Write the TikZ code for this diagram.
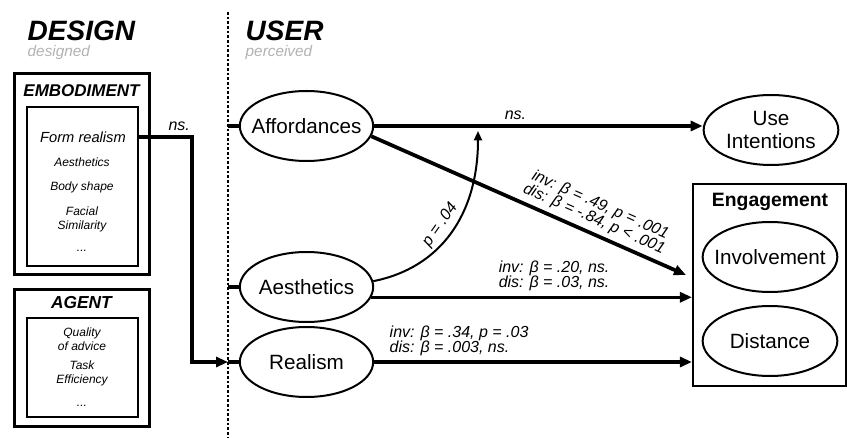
\documentclass[tikz,border=0pt]{standalone}
\usepackage{fontspec}
\setmainfont{Liberation Sans}
\usepackage{xcolor}
\usetikzlibrary{arrows.meta,shapes.geometric}
\tikzset{>={Triangle[length=9pt,width=7.5pt]}}

\begin{document}
\begin{tikzpicture}[x=0.75pt,y=-0.75pt,
    construct/.style={draw,ellipse,line width=1.5pt,minimum width=100pt,minimum height=52.5pt,inner xsep=-7pt,inner ysep=0pt,align=center,font=\fontsize{15.5}{17}\selectfont},
    group/.style={draw,line width=2.25pt,minimum width=101.25pt,inner sep=0pt},
    inner/.style={draw,line width=1pt,minimum width=83.25pt,inner sep=0pt},
    item/.style={align=center,font=\fontsize{9}{10.5}\selectfont\itshape},
    stat/.style={align=center,font=\fontsize{12}{11.5}\selectfont\itshape},
    heading/.style={anchor=west,font=\fontsize{21}{21}\selectfont\bfseries\itshape},
    sub/.style={anchor=west,text=black!30,font=\fontsize{11.5}{12}\selectfont\itshape},
    path/.style={->,line width=2.4pt}]
    \useasboundingbox (0,0) rectangle (847,438);
    \coordinate (divtop) at (228,12);
    \coordinate (divbottom) at (228,438);
    \draw[line width=2pt,dash pattern=on 2pt off 1.5pt] (divtop) -- (divbottom);
    \node[heading] (design) at (23,31) {DESIGN};
    \node[sub] (designed) at (23,53) {designed};
    \node[heading] (user) at (241,31) {USER};
    \node[sub] (perceived) at (241,53) {perceived};

    \node[group,minimum height=150.75pt] (embodiment) at (81.5,174.5) {};
    \node[inner,minimum height=119.25pt] (embinner) at (82.5,186.5) {};
    \node[font=\fontsize{12.75}{13}\selectfont\bfseries\itshape] (embtitle) at (81.5,91) {EMBODIMENT};
    \node[align=center,font=\fontsize{11}{12}\selectfont\itshape] (form) at (83,137) {Form realism};
    \node[item] (aesthetics) at (82,162) {Aesthetics};
    \node[item] (body) at (82,187) {Body shape};
    \node[item] (facial) at (82,219) {Facial\\Similarity};
    \node[item] (embdots) at (82,251) {...};

    \node[group,minimum height=102.75pt] (agent) at (81.5,358.5) {};
    \node[inner,minimum height=74.25pt] (agentinner) at (82.5,367.5) {};
    \node[font=\fontsize{13}{13}\selectfont\bfseries\itshape] (agenttitle) at (81.5,303) {AGENT};
    \node[item] (quality) at (82,339) {Quality\\of advice};
    \node[item] (task) at (82,373) {Task\\Efficiency};
    \node[item] (agentdots) at (82,406) {...};

    \node[construct] (aff) at (306.5,126) {Affordances};
    \node[construct] (aes) at (306.5,287) {Aesthetics};
    \node[construct] (real) at (306.5,362) {Realism};
    \node[construct,minimum width=101pt] (use) at (771,130) {Use\\Intentions};
    \node[draw,line width=1.6pt,minimum width=114.75pt,minimum height=151.5pt] (engage) at (769.5,285) {};
    \node[font=\fontsize{14.5}{15}\selectfont\bfseries] (engtitle) at (770,202) {Engagement};
    \node[construct,minimum width=101pt] (involve) at (770,257) {Involvement};
    \node[construct,minimum width=101pt] (distance) at (770,341) {Distance};

    \foreach \c in {aff,aes,real}
      \draw[line width=2.4pt] (\c.west) -- (\c.west -| divtop);
    \draw[path] (form.east -| embinner.east) -- node[stat,pos=0.76,above] {ns.} (192,137) |- (real.west -| divtop);
    \coordinate (engA) at (686,275);
    \coordinate (moderate) at (478,131);
    \draw[path] (aff.east) -- node[stat,pos=0.43,above] {ns.} (aff.east -| use.west);
    \draw[path,line width=2.8pt] (aff.-9) -- node[stat,sloped,above,pos=0.69] {inv: β = .49, p = .001\\dis: β = -.84, p < .001} (engA);
    \draw[path] (aes.-9) -- node[stat,above,pos=0.57] {inv: β = .20, ns.\\dis: β = .03, ns.} (aes.-9 -| engage.west);
    \draw[path] (real.east) -- node[stat,align=left,above right,pos=0.03] {inv: β = .34, p = .03\\dis: β = .003, ns.} (real.east -| engage.west);
    \draw[->,>={Triangle[length=7pt,width=6pt]},line width=1.5pt] (aes.5) .. controls (440,268) and (478,215) .. node[stat,sloped,above,pos=0.5] {p = .04} (moderate);
\end{tikzpicture}
\end{document}
